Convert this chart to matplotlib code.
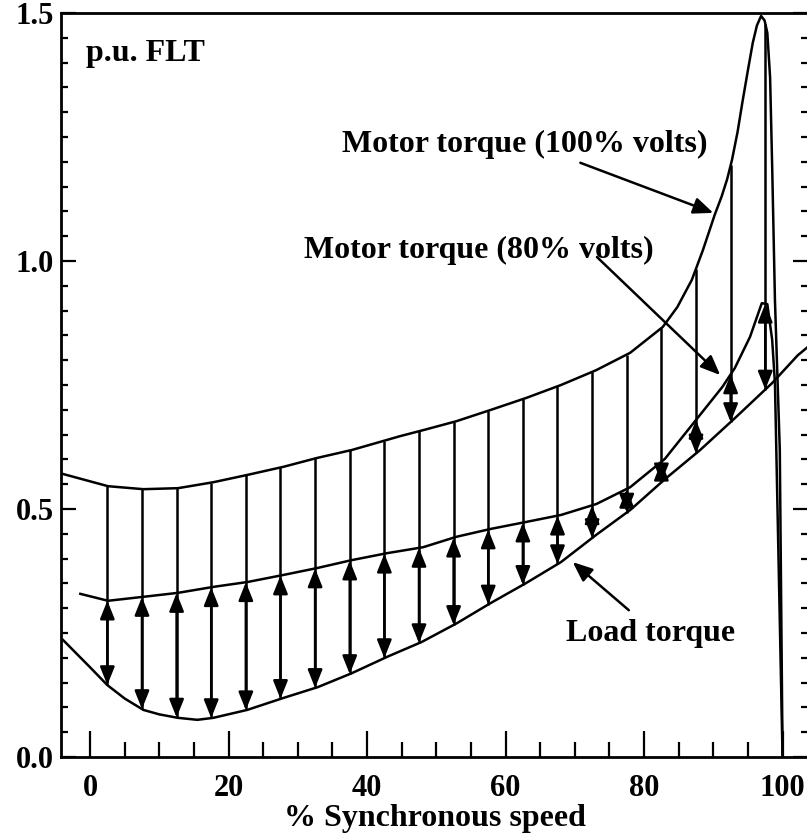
"""
Par motor vs par de carga durante el arranque (p.u. FLT vs % velocidad síncrona).
Las flechas marcan el par de aceleración disponible con 80 % de tensión.
"""

import matplotlib
matplotlib.use("Agg")
import matplotlib.pyplot as plt
import numpy as np
from matplotlib.ticker import MultipleLocator

# Curvas
VEL_100 = [-4.0, 2.6, 7.7, 12.7, 17.8, 22.8, 27.9, 32.8, 37.8, 44.8, 48.1,
           52.9, 57.9, 63.0, 68.0, 73.1, 78.0, 82.7, 84.8, 86.9, 88.5, 90.2,
           91.2, 92.0, 92.7, 93.5, 94.2, 95.0, 95.7, 96.3, 96.9, 97.4, 97.8,
           98.2, 98.5, 98.9, 99.6, 100.0]
PAR_100 = [0.571, 0.546, 0.540, 0.542, 0.554, 0.569, 0.585, 0.603, 0.619,
           0.647, 0.659, 0.677, 0.700, 0.724, 0.750, 0.780, 0.815, 0.867,
           0.907, 0.962, 1.022, 1.093, 1.130, 1.165, 1.204, 1.260, 1.320,
           1.385, 1.440, 1.475, 1.494, 1.485, 1.460, 1.370, 1.190, 0.921,
           0.620, 0.0]

VEL_80 = [-1.4, 2.6, 7.7, 12.7, 17.8, 22.8, 27.9, 32.8, 37.8, 42.9, 48.1,
          52.9, 57.9, 63.0, 68.0, 73.1, 78.0, 83.0, 88.1, 91.3, 93.1, 95.3,
          97.0, 97.8, 98.5, 98.9, 100.0]
PAR_80 = [0.329, 0.315, 0.323, 0.331, 0.343, 0.353, 0.367, 0.381, 0.397,
          0.411, 0.423, 0.444, 0.460, 0.474, 0.488, 0.510, 0.544, 0.601,
          0.690, 0.746, 0.784, 0.847, 0.915, 0.913, 0.841, 0.754, 0.0]

VEL_CARGA = [-3.9, 0.0, 2.5, 5.0, 7.7, 10.0, 12.7, 15.5, 17.8, 22.7, 27.9,
             32.9, 37.8, 42.9, 47.9, 53.0, 57.8, 63.0, 68.0, 73.1, 78.0,
             83.0, 88.1, 93.1, 98.5, 102.2, 103.5]
PAR_CARGA = [0.236, 0.181, 0.145, 0.118, 0.095, 0.086, 0.079, 0.075, 0.079,
             0.095, 0.119, 0.141, 0.169, 0.202, 0.232, 0.270, 0.310, 0.351,
             0.393, 0.448, 0.498, 0.560, 0.619, 0.683, 0.754, 0.810, 0.825]

# Velocidades donde se dibujan las flechas
VEL_FLECHAS = np.arange(2.5, 100, 5.0)

FUENTE = ["Liberation Serif", "DejaVu Serif"]
LW = 1.8


def flecha(ax, origen, punta, estilo="-|>,head_length=0.6,head_width=0.25"):
    ax.annotate("", xy=punta, xytext=origen,
                arrowprops=dict(arrowstyle=estilo, color="black", lw=LW,
                                mutation_scale=20, shrinkA=0, shrinkB=0))


def main():
    plt.rcParams["font.family"] = FUENTE
    plt.rcParams["font.weight"] = "bold"

    fig = plt.figure(figsize=(8.07, 8.33), dpi=100)
    ax = fig.add_axes([0.0756, 0.0912, 0.9257, 0.8932])

    ax.plot(VEL_100, PAR_100, color="black", lw=LW)
    ax.plot(VEL_80, PAR_80, color="black", lw=LW)
    ax.plot(VEL_CARGA, PAR_CARGA, color="black", lw=LW)

    # Líneas verticales y flechas dobles (par de aceleración)
    sup = np.interp(VEL_FLECHAS, VEL_100, PAR_100)
    med = np.interp(VEL_FLECHAS, VEL_80, PAR_80)
    inf = np.interp(VEL_FLECHAS, VEL_CARGA, PAR_CARGA)
    ax.vlines(VEL_FLECHAS, inf, sup, color="black", lw=LW)
    for x, m, b in zip(VEL_FLECHAS, med, inf):
        flecha(ax, (x, b), (x, m), "<|-|>,head_length=0.55,head_width=0.22")

    # Rótulos
    kw = dict(fontsize=23, fontweight="bold", ha="center", va="center")
    ax.text(-0.6, 1.448, "p.u. FLT", fontsize=23, fontweight="bold",
            ha="left", va="top")
    ax.text(62.8, 1.234, "Motor torque (100% volts)", **kw)
    flecha(ax, (70.8, 1.198), (90.0, 1.097))
    ax.text(56.2, 1.022, "Motor torque (80% volts)", **kw)
    flecha(ax, (73.2, 1.008), (91.0, 0.770))
    ax.text(80.9, 0.250, "Load torque", **kw)
    flecha(ax, (77.8, 0.296), (69.7, 0.393))

    ax.set_xlim(-4.19, 103.68)
    ax.set_ylim(0, 1.5)
    ax.xaxis.set_major_locator(MultipleLocator(20))
    ax.xaxis.set_minor_locator(MultipleLocator(5))
    ax.yaxis.set_major_locator(MultipleLocator(0.5))
    ax.yaxis.set_minor_locator(MultipleLocator(0.05))
    ax.yaxis.set_major_formatter(lambda v, pos: f"{v:.1f}")

    ax.tick_params(axis="x", which="major", direction="in", length=19,
                   width=1.6, labelsize=22, pad=12, top=False)
    ax.tick_params(axis="x", which="minor", direction="in", length=11,
                   width=1.6, top=False)
    ax.tick_params(axis="y", which="major", direction="in", length=11,
                   width=1.6, labelsize=22, pad=5, right=True)
    ax.tick_params(axis="y", which="minor", direction="in", length=5,
                   width=1.6, right=True)
    for lbl in ax.get_xticklabels() + ax.get_yticklabels():
        lbl.set_fontweight("bold")
    for s in ax.spines.values():
        s.set_linewidth(2.0)

    ax.set_xlabel("% Synchronous speed", fontsize=23, fontweight="bold",
                  labelpad=1)

    fig.savefig("out.png", dpi=100)
    plt.close(fig)


if __name__ == "__main__":
    main()
